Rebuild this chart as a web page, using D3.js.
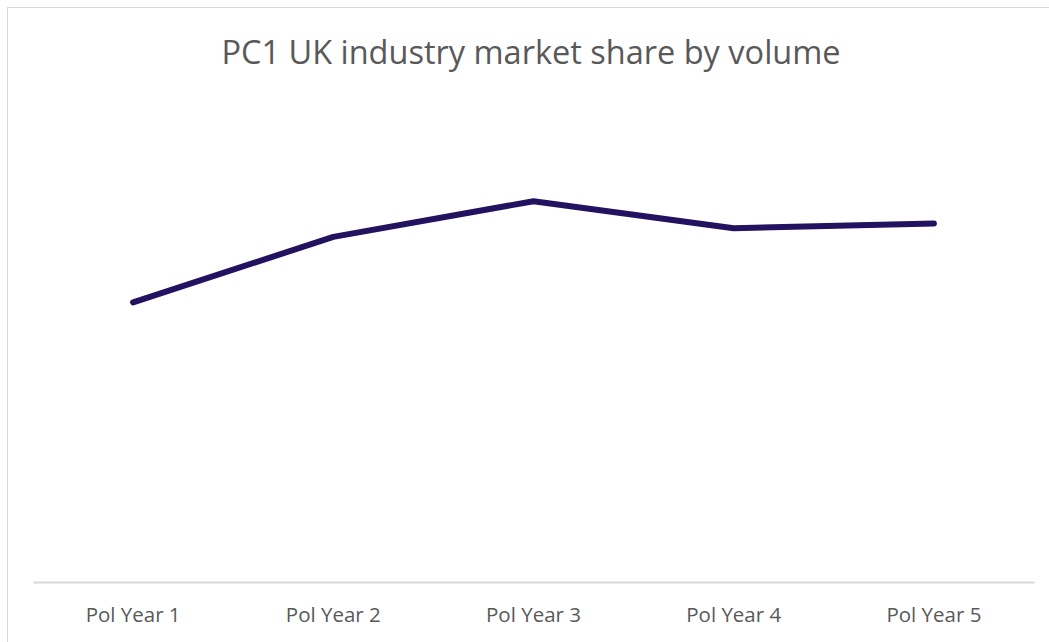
<!DOCTYPE html>
<html>
<head>
<meta charset="utf-8">
<script src="https://cdn.jsdelivr.net/npm/d3@7"></script>
<style>
  body { margin: 0; background: #fff; }
  text { font-family: "Open Sans", sans-serif; }
</style>
</head>
<body>
<div id="chart"></div>
<script>
var years = ["Pol Year 1", "Pol Year 2", "Pol Year 3", "Pol Year 4", "Pol Year 5"];
var share = [0.290, 0.358, 0.395, 0.367, 0.372];

var width = 1049, height = 642;
var margin = {top: 100, bottom: 60, left: 33, right: 15};

var svg = d3.select("#chart")
    .append("svg")
    .attr("width", width)
    .attr("height", height);

// chart border
svg.append("rect")
    .attr("x", 7.5).attr("y", 7.5)
    .attr("width", width + 10).attr("height", height + 10)
    .attr("fill", "none")
    .attr("stroke", "#d9d9d9")
    .attr("stroke-width", 1);

svg.append("text")
    .attr("x", 531)
    .attr("y", 64)
    .attr("text-anchor", "middle")
    .attr("fill", "#595959")
    .style("font-size", "32.5px")
    .text("PC1 UK industry market share by volume");

var xScale = d3.scaleBand()
    .domain(years)
    .range([margin.left, width - margin.right]);

var yScale = d3.scaleLinear()
    .domain([0, 0.5])
    .range([height - margin.bottom, margin.top]);

var xAxis = svg.append("g")
    .attr("transform", `translate(0, ${height - margin.bottom})`)
    .call(d3.axisBottom(xScale).tickSize(0).tickPadding(25));

xAxis.select(".domain")
    .attr("stroke", "#d9d9d9")
    .attr("stroke-width", 2);

xAxis.selectAll("text")
    .attr("fill", "#595959")
    .style("font-size", "20.5px")
    .style("font-family", "Open Sans, sans-serif");

var line = d3.line()
    .x(function (d, i) { return xScale(years[i]) + xScale.bandwidth() / 2; })
    .y(function (d) { return yScale(d); });

svg.append("path")
    .datum(share)
    .attr("d", line)
    .attr("fill", "none")
    .attr("stroke", "#221260")
    .attr("stroke-width", 6)
    .attr("stroke-linecap", "round")
    .attr("stroke-linejoin", "round");
</script>
</body>
</html>
